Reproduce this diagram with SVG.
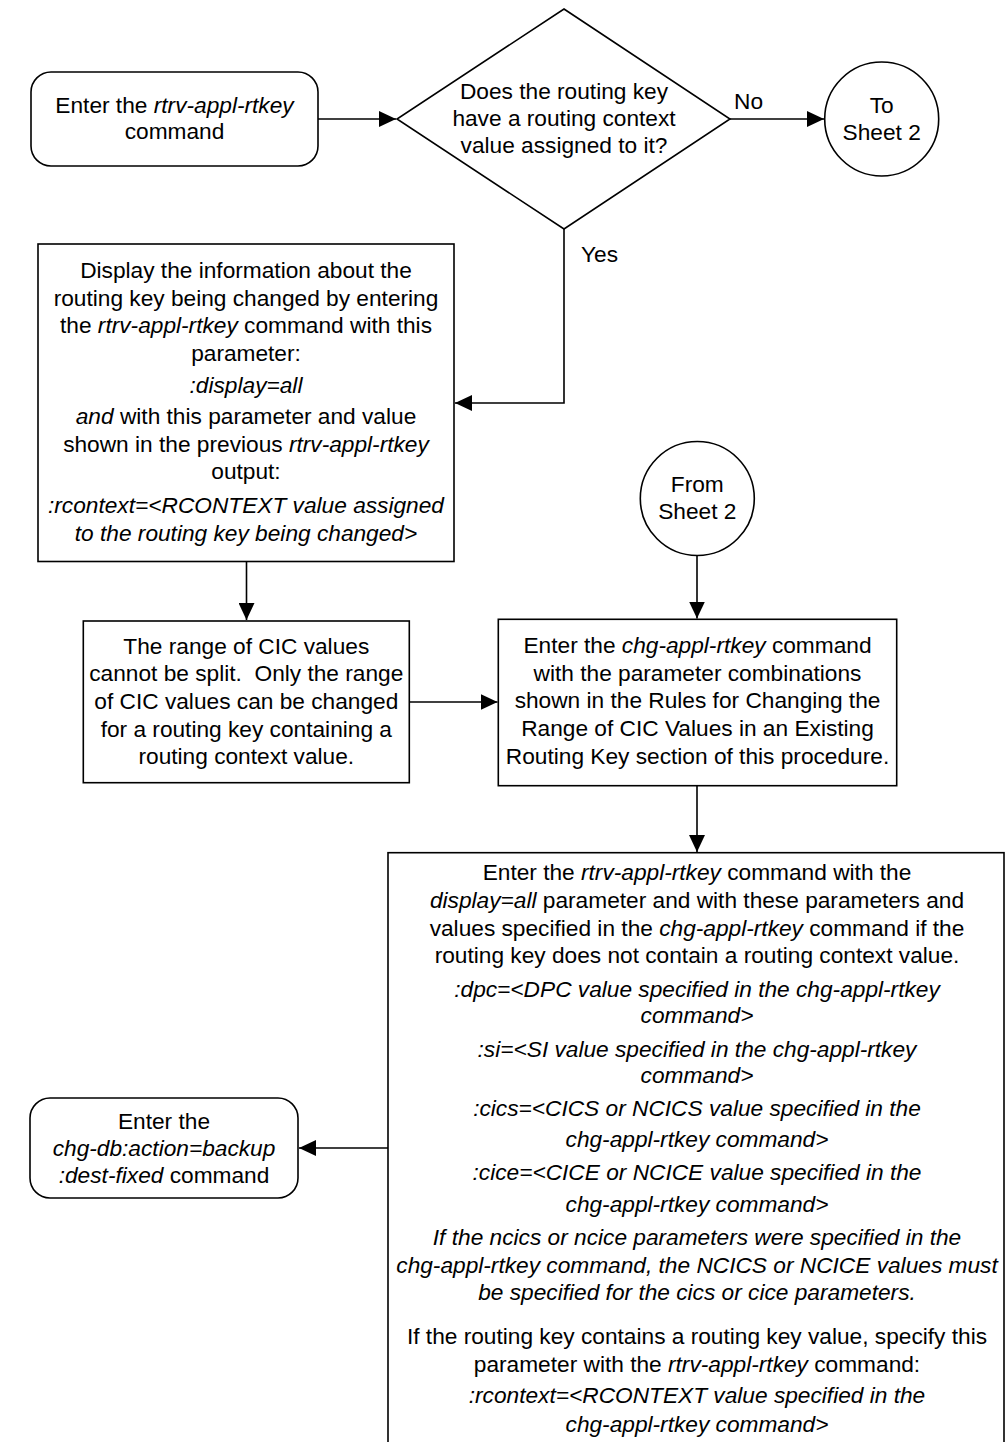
<svg xmlns="http://www.w3.org/2000/svg" width="1005" height="1442" viewBox="0 0 1005 1442">
<style>
text{font-family:"Liberation Sans",Arial,Helvetica,sans-serif;font-size:22.7px;fill:#000;text-anchor:middle}
.l{text-anchor:start}
.i{font-style:italic}
.s{fill:#fff;stroke:#000;stroke-width:1.6}
.c{fill:none;stroke:#000;stroke-width:1.6}
</style>
<defs>
<marker id="ah" markerUnits="userSpaceOnUse" markerWidth="18" markerHeight="16" refX="17" refY="8" orient="auto">
<path d="M0,0 L17,8 L0,16 z" fill="#000"/>
</marker>
</defs>
<rect width="1005" height="1442" fill="#fff"/>

<g id="connectors">
<path class="c" d="M318,119 H396" marker-end="url(#ah)"/>
<path class="c" d="M730,119 H824" marker-end="url(#ah)"/>
<path class="c" d="M564,229 V403 H455" marker-end="url(#ah)"/>
<path class="c" d="M246.5,562 V620" marker-end="url(#ah)"/>
<path class="c" d="M409.5,702 H497.5" marker-end="url(#ah)"/>
<path class="c" d="M697,556 V618.5" marker-end="url(#ah)"/>
<path class="c" d="M697,786 V852" marker-end="url(#ah)"/>
<path class="c" d="M388,1148 H299" marker-end="url(#ah)"/>
<text class="l" x="734" y="109">No</text>
<text class="l" x="581" y="262">Yes</text>
</g>

<g id="start">
<rect class="s" x="31" y="72" width="287" height="94" rx="20"/>
<text x="174.5" y="113">Enter the <tspan class="i">rtrv-appl-rtkey</tspan></text>
<text x="174.5" y="139">command</text>
</g>

<g id="decision">
<polygon class="s" points="564,9 730,119 564,229 397,119"/>
<text x="564" y="99">Does the routing key</text>
<text x="564" y="126">have a routing context</text>
<text x="564" y="153">value assigned to it?</text>
</g>

<g id="toSheet2">
<circle class="s" cx="881.7" cy="119" r="57"/>
<text x="881.7" y="113">To</text>
<text x="881.7" y="139.5">Sheet 2</text>
</g>

<g id="display">
<rect class="s" x="38" y="244" width="416" height="317.5"/>
<text x="246" y="278.3">Display the information about the</text>
<text x="246" y="306">routing key being changed by entering</text>
<text x="246" y="333.3">the <tspan class="i">rtrv-appl-rtkey</tspan> command with this</text>
<text x="246" y="360.5">parameter:</text>
<text x="246" y="393" class="i">:display=all</text>
<text x="246" y="424"><tspan class="i">and</tspan> with this parameter and value</text>
<text x="246" y="451.5">shown in the previous <tspan class="i">rtrv-appl-rtkey</tspan></text>
<text x="246" y="479">output:</text>
<text x="246" y="512.7" class="i">:rcontext=&lt;RCONTEXT value assigned</text>
<text x="246" y="540.5" class="i">to the routing key being changed&gt;</text>
</g>

<g id="fromSheet2">
<circle class="s" cx="697.3" cy="498.5" r="57"/>
<text x="697.3" y="491.7">From</text>
<text x="697.3" y="519">Sheet 2</text>
</g>

<g id="cicNote">
<rect class="s" x="83.3" y="621" width="326" height="161.7"/>
<text x="246.3" y="653.5">The range of CIC values</text>
<text x="246.3" y="681.3" xml:space="preserve">cannot be split.  Only the range</text>
<text x="246.3" y="709">of CIC values can be changed</text>
<text x="246.3" y="736.5">for a routing key containing a</text>
<text x="246.3" y="764">routing context value.</text>
</g>

<g id="chgCmd">
<rect class="s" x="498.3" y="619.3" width="398.4" height="166.4"/>
<text x="697.5" y="653.3">Enter the <tspan class="i">chg-appl-rtkey</tspan> command</text>
<text x="697.5" y="680.8">with the parameter combinations</text>
<text x="697.5" y="708.3">shown in the Rules for Changing the</text>
<text x="697.5" y="736">Range of CIC Values in an Existing</text>
<text x="697.5" y="763.5">Routing Key section of this procedure.</text>
</g>

<g id="rtrvVerify">
<rect class="s" x="388" y="852.7" width="616" height="620"/>
<text x="697" y="880">Enter the <tspan class="i">rtrv-appl-rtkey</tspan> command with the</text>
<text x="697" y="907.7"><tspan class="i">display=all</tspan> parameter and with these parameters and</text>
<text x="697" y="935.7">values specified in the <tspan class="i">chg-appl-rtkey</tspan> command if the</text>
<text x="697" y="963.3">routing key does not contain a routing context value.</text>
<text x="697" y="996.7" class="i">:dpc=&lt;DPC value specified in the chg-appl-rtkey</text>
<text x="697" y="1023.3" class="i">command&gt;</text>
<text x="697" y="1056.7" class="i">:si=&lt;SI value specified in the chg-appl-rtkey</text>
<text x="697" y="1083.3" class="i">command&gt;</text>
<text x="697" y="1116" class="i">:cics=&lt;CICS or NCICS value specified in the</text>
<text x="697" y="1147.3" class="i">chg-appl-rtkey command&gt;</text>
<text x="697" y="1180" class="i">:cice=&lt;CICE or NCICE value specified in the</text>
<text x="697" y="1211.7" class="i">chg-appl-rtkey command&gt;</text>
<text x="697" y="1245" class="i">If the ncics or ncice parameters were specified in the</text>
<text x="697" y="1273.3" class="i">chg-appl-rtkey command, the NCICS or NCICE values must</text>
<text x="697" y="1300" class="i">be specified for the cics or cice parameters.</text>
<text x="697" y="1344">If the routing key contains a routing key value, specify this</text>
<text x="697" y="1371.7">parameter with the <tspan class="i">rtrv-appl-rtkey</tspan> command:</text>
<text x="697" y="1403.3" class="i">:rcontext=&lt;RCONTEXT value specified in the</text>
<text x="697" y="1431.7" class="i">chg-appl-rtkey command&gt;</text>
</g>

<g id="backup">
<rect class="s" x="30" y="1098" width="268" height="100" rx="20"/>
<text x="164" y="1128.5">Enter the</text>
<text x="164" y="1156" class="i">chg-db:action=backup</text>
<text x="164" y="1183"><tspan class="i">:dest-fixed</tspan> command</text>
</g>
</svg>
